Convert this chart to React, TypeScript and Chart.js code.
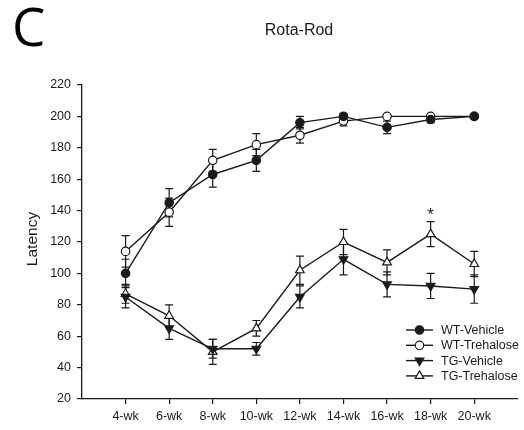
import React, { useEffect, useRef } from 'react';
import { Chart, registerables } from 'chart.js';

Chart.register(...registerables);

const CATEGORIES = ['4-wk', '6-wk', '8-wk', '10-wk', '12-wk', '14-wk', '16-wk', '18-wk', '20-wk'];
const WEEKS = [4, 6, 8, 10, 12, 14, 16, 18, 20];
const Y_TICKS = [20, 40, 60, 80, 100, 120, 140, 160, 180, 200, 220];

const WT_VEHICLE = [100, 145, 163, 172, 196, 200, 193, 198, 200];
const WT_VEHICLE_ERR = [9, 9, 8, 7, 4, 2, 4, 2, 1];
const WT_TREHALOSE = [114, 139, 172, 182, 188, 197, 200, 200, 200];
const WT_TREHALOSE_ERR = [10, 9, 7, 7, 5, 3, 1, 1, 1];
const TG_VEHICLE = [85, 65, 52, 52, 85, 109, 93, 92, 90];
const TG_VEHICLE_ERR = [7, 7, 6, 4, 7, 10, 8, 8, 9];
const TG_TREHALOSE = [87, 73, 50, 65, 102, 120, 107, 125, 106];
const TG_TREHALOSE_ERR = [6, 7, 8, 5, 9, 8, 8, 8, 8];

const SERIES_NAMES = ['WT-Vehicle', 'WT-Trehalose', 'TG-Vehicle', 'TG-Trehalose'];
const STAR_SERIES = 3;
const STAR_INDEX = 7;

const INK = '#1a1a1a';
const FONT = '"Liberation Sans", Arial, sans-serif';

type Marker = { style: 'circle' | 'triangle'; fill: string; rot: number };
const MARKERS: Marker[] = [
  { style: 'circle', fill: INK, rot: 0 },
  { style: 'circle', fill: '#ffffff', rot: 0 },
  { style: 'triangle', fill: INK, rot: 180 },
  { style: 'triangle', fill: '#ffffff', rot: 0 },
];
const CIRCLE_R = 4.2;
const TRI_R = 5;

function drawMarker(ctx: CanvasRenderingContext2D, m: Marker, x: number, y: number) {
  ctx.save();
  ctx.beginPath();
  if (m.style === 'circle') {
    ctx.arc(x, y, CIRCLE_R, 0, Math.PI * 2);
  } else {
    const r = TRI_R;
    const dir = m.rot === 180 ? -1 : 1;
    ctx.moveTo(x, y - dir * r);
    ctx.lineTo(x + r * 0.866, y + dir * r * 0.5);
    ctx.lineTo(x - r * 0.866, y + dir * r * 0.5);
    ctx.closePath();
  }
  ctx.fillStyle = m.fill;
  ctx.fill();
  ctx.lineWidth = 1.2;
  ctx.strokeStyle = INK;
  ctx.stroke();
  ctx.restore();
}

export default function App() {
  const ref = useRef<HTMLCanvasElement | null>(null);

  useEffect(() => {
    if (!ref.current) return;
    const values = [WT_VEHICLE, WT_TREHALOSE, TG_VEHICLE, TG_TREHALOSE];
    const errors = [WT_VEHICLE_ERR, WT_TREHALOSE_ERR, TG_VEHICLE_ERR, TG_TREHALOSE_ERR];

    const datasets = values.map((vals, si) => ({
      label: SERIES_NAMES[si],
      data: vals.map((v, i) => ({ x: WEEKS[i], y: v })),
      borderColor: INK,
      borderWidth: 1.4,
      backgroundColor: MARKERS[si].fill,
      pointBackgroundColor: MARKERS[si].fill,
      pointBorderColor: INK,
      pointBorderWidth: 1.2,
      pointStyle: MARKERS[si].style,
      pointRotation: MARKERS[si].rot,
      pointRadius: MARKERS[si].style === 'circle' ? CIRCLE_R : TRI_R,
      tension: 0,
    }));

    const errorBars = {
      id: 'errorBars',
      beforeDatasetsDraw(chart: any) {
        const { ctx, scales } = chart;
        ctx.save();
        ctx.strokeStyle = INK;
        ctx.lineWidth = 1.2;
        values.forEach((vals, si) => {
          vals.forEach((v, i) => {
            const x = scales.x.getPixelForValue(WEEKS[i]);
            const yt = scales.y.getPixelForValue(v + errors[si][i]);
            const yb = scales.y.getPixelForValue(v - errors[si][i]);
            ctx.beginPath();
            ctx.moveTo(x, yt);
            ctx.lineTo(x, yb);
            ctx.moveTo(x - 4, yt);
            ctx.lineTo(x + 4, yt);
            ctx.moveTo(x - 4, yb);
            ctx.lineTo(x + 4, yb);
            ctx.stroke();
          });
        });
        ctx.restore();
      },
    };

    const decor = {
      id: 'decor',
      afterDraw(chart: any) {
        const { ctx, scales } = chart;
        ctx.save();
        // panel letter
        ctx.fillStyle = '#000';
        ctx.font = `53px "Open Sans", ${FONT}`;
        ctx.textAlign = 'left';
        ctx.textBaseline = 'middle';
        ctx.fillText('C', 12, 31);
        // title
        ctx.fillStyle = INK;
        ctx.font = `16px ${FONT}`;
        ctx.textAlign = 'center';
        ctx.fillText('Rota-Rod', 299, 31);
        // y label
        ctx.save();
        ctx.translate(33, 239);
        ctx.rotate(-Math.PI / 2);
        ctx.font = `15.5px ${FONT}`;
        ctx.fillText('Latency', 0, 0);
        ctx.restore();
        // significance star
        const sx = scales.x.getPixelForValue(WEEKS[STAR_INDEX]);
        const sy = scales.y.getPixelForValue(values[STAR_SERIES][STAR_INDEX] + errors[STAR_SERIES][STAR_INDEX]);
        ctx.font = `17px ${FONT}`;
        ctx.fillText('*', sx, sy - 6);
        // legend
        const lx0 = 406;
        const lx1 = 433;
        const rowY = [330, 345.3, 360.6, 375.9];
        ctx.font = `12.5px ${FONT}`;
        ctx.textAlign = 'left';
        SERIES_NAMES.forEach((name, si) => {
          const y = rowY[si];
          ctx.strokeStyle = INK;
          ctx.lineWidth = 1.4;
          ctx.beginPath();
          ctx.moveTo(lx0, y);
          ctx.lineTo(lx1, y);
          ctx.stroke();
          drawMarker(ctx, MARKERS[si], (lx0 + lx1) / 2, y);
          ctx.fillStyle = INK;
          ctx.fillText(name, 441, y + 0.5);
        });
        ctx.restore();
      },
    };

    const chart = new Chart(ref.current, {
      type: 'line',
      data: { datasets } as any,
      options: {
        responsive: false,
        animation: false,
        devicePixelRatio: 1,
        layout: { padding: { top: 85, right: 5, left: 0, bottom: 0 } },
        plugins: { legend: { display: false }, tooltip: { enabled: false }, title: { display: false } },
        scales: {
          x: {
            type: 'linear',
            min: 2,
            max: 22,
            afterBuildTicks: (s: any) => {
              s.ticks = WEEKS.map((v) => ({ value: v }));
            },
            afterFit: (s: any) => {
              s.height = 31;
            },
            ticks: {
              autoSkip: false,
              maxRotation: 0,
              padding: 5,
              color: INK,
              font: { family: FONT, size: 12.5 },
              callback: (v: any) => CATEGORIES[WEEKS.indexOf(Number(v))] ?? '',
            },
            grid: { display: true, drawOnChartArea: false, drawTicks: true, tickLength: 5, color: INK, lineWidth: 1.2 },
            border: { display: true, color: INK, width: 1.3 },
          },
          y: {
            type: 'linear',
            min: 20,
            max: 220,
            afterBuildTicks: (s: any) => {
              s.ticks = Y_TICKS.map((v) => ({ value: v }));
            },
            afterFit: (s: any) => {
              s.width = 82;
            },
            ticks: {
              padding: 6,
              color: INK,
              font: { family: FONT, size: 12.5 },
            },
            grid: { display: true, drawOnChartArea: false, drawTicks: true, tickLength: 5, color: INK, lineWidth: 1.2 },
            border: { display: true, color: INK, width: 1.3 },
          },
        },
      } as any,
      plugins: [errorBars, decor],
    });
    return () => chart.destroy();
  }, []);

  return (
    <div style={{ position: 'absolute', left: 0, top: 0, width: 524, height: 430, background: '#fff' }}>
      <canvas ref={ref} width={524} height={430} style={{ width: 524, height: 430, display: 'block' }} />
    </div>
  );
}
